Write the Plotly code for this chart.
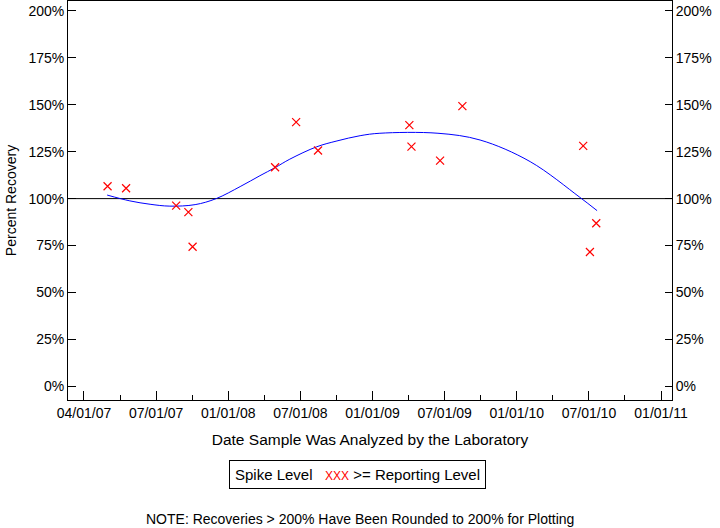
import plotly.graph_objects as go
import pandas as pd

# Data
sample_dates = ["2007-05-27", "2007-07-10", "2007-11-06", "2007-12-05", "2007-12-15",
                "2008-06-28", "2008-08-17", "2008-10-08", "2009-05-13", "2009-05-18",
                "2009-07-25", "2009-09-16", "2010-06-30", "2010-07-16", "2010-07-31"]
recovery_pct = [106.6, 105.5, 96.3, 92.8, 74.4,
                116.7, 140.7, 125.6, 139.1, 127.7,
                120.2, 149.2, 128.1, 71.6, 86.9]

trend_dates = ["2007-05-26", "2007-07-19", "2007-09-05", "2007-10-22", "2007-12-21",
               "2008-02-09", "2008-04-06", "2008-05-23", "2008-06-28", "2008-08-02",
               "2008-10-05", "2008-11-22", "2009-01-16", "2009-03-04", "2009-07-20",
               "2009-10-28", "2010-02-24", "2010-06-22", "2010-08-02"]
trend_pct = [101.9, 98.8, 97.0, 96.0, 96.8,
             100.0, 106.4, 112.2, 116.5, 121.0,
             127.6, 130.7, 133.5, 134.8, 134.8,
             131.2, 119.7, 100.7, 93.6]

x_tick_labels = ["04/01/07", "07/01/07", "01/01/08", "07/01/08", "01/01/09",
                 "07/01/09", "01/01/10", "07/01/10", "01/01/11"]
y_tick_values = [0, 25, 50, 75, 100, 125, 150, 175, 200]
y_tick_labels = [f"{v}%" for v in y_tick_values]
reference_level = 100

x_start, x_end = "2007-04-01", "2011-01-01"
x_range = ["2007-02-22", "2011-01-27"]
y_range = [-7.2, 205.2]

major_ticks = pd.date_range(x_start, x_end, periods=len(x_tick_labels))
minor_ticks = pd.date_range(x_start, x_end, periods=2 * len(x_tick_labels) - 1)

FONT = "Liberation Sans, Arial, sans-serif"

fig = go.Figure()

# reference line at 100%
fig.add_trace(go.Scatter(x=x_range, y=[reference_level, reference_level], mode="lines",
                         line=dict(color="black", width=1), hoverinfo="skip", showlegend=False))
# trend curve
fig.add_trace(go.Scatter(x=trend_dates, y=trend_pct, mode="lines",
                         line=dict(color="blue", width=1, shape="spline", smoothing=1),
                         showlegend=False))
# sample points
fig.add_trace(go.Scatter(x=sample_dates, y=recovery_pct, mode="markers",
                         marker=dict(symbol="x-thin-open", size=8, color="red",
                                     line=dict(color="red", width=1.2)),
                         showlegend=False))
# invisible trace for right axis
fig.add_trace(go.Scatter(x=[x_range[0]], y=[reference_level], yaxis="y2", mode="markers",
                         marker=dict(opacity=0), hoverinfo="skip", showlegend=False))

axis_font = dict(family=FONT, size=14, color="black")

fig.update_layout(
    width=720, height=528,
    margin=dict(l=68, r=48, t=1, b=128),
    paper_bgcolor="white", plot_bgcolor="white",
    font=dict(family=FONT, color="black"),
    xaxis=dict(
        type="date", range=x_range,
        tickmode="array", tickvals=list(major_ticks), ticktext=x_tick_labels,
        ticks="inside", ticklen=9, tickwidth=1, tickcolor="black",
        minor=dict(tickmode="array", tickvals=list(minor_ticks), ticks="inside",
                   ticklen=5, tickwidth=1, tickcolor="black"),
        showline=True, linecolor="black", linewidth=1, mirror=True,
        showgrid=False, zeroline=False, tickfont=axis_font,
        title=dict(text="Date Sample Was Analyzed by the Laboratory",
                   font=dict(family=FONT, size=15.5, color="black"), standoff=14),
    ),
    yaxis=dict(
        range=y_range, tickmode="array", tickvals=y_tick_values, ticktext=y_tick_labels,
        ticks="inside", ticklen=8, tickwidth=1, tickcolor="black",
        showline=True, linecolor="black", linewidth=1,
        showgrid=False, zeroline=False, tickfont=axis_font,
        title=dict(text="Percent Recovery", font=dict(family=FONT, size=14, color="black"),
                   standoff=8),
    ),
    yaxis2=dict(
        range=y_range, overlaying="y", side="right",
        tickmode="array", tickvals=y_tick_values, ticktext=y_tick_labels,
        ticks="inside", ticklen=7, tickwidth=1, tickcolor="black",
        showline=True, linecolor="black", linewidth=1,
        showgrid=False, zeroline=False, tickfont=axis_font,
    ),
    annotations=[
        dict(text="Spike Level   <span style='color:red;font-size:12px'>XXX</span> >= Reporting Level",
             xref="paper", yref="paper", x=0.480, y=-0.1855,
             xanchor="center", yanchor="middle", showarrow=False,
             font=dict(family=FONT, size=15, color="black"),
             bordercolor="black", borderwidth=1, borderpad=5, bgcolor="white"),
        dict(text="NOTE: Recoveries > 200% Have Been Rounded to 200% for Plotting",
             xref="paper", yref="paper", x=0.4834, y=-0.298,
             xanchor="center", yanchor="middle", showarrow=False,
             font=dict(family=FONT, size=14, color="black")),
    ],
)

fig.write_html("out.html")
